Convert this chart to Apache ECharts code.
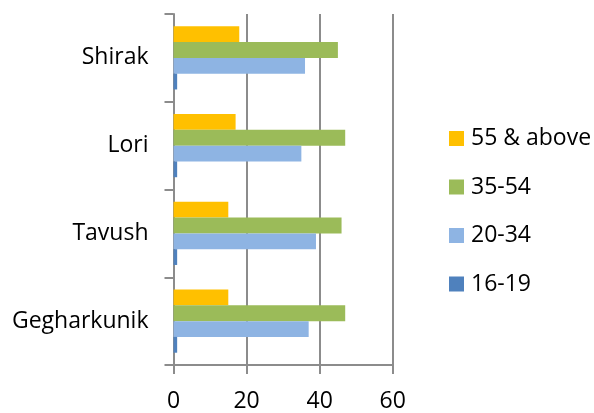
<!DOCTYPE html>
<html>
<head>
<meta charset="utf-8">
<script src="https://cdn.jsdelivr.net/npm/echarts@6/dist/echarts.min.js"></script>
<style>
html,body{margin:0;padding:0;background:#fff;}
#chart{width:594px;height:413px;}
</style>
</head>
<body>
<div id="chart"></div>
<script>
const categories = ['Gegharkunik', 'Tavush', 'Lori', 'Shirak'];
const seriesNames = ['55 & above', '35-54', '20-34', '16-19'];
const age55plus = [15, 15, 17, 18];
const age35to54 = [47, 46, 47, 45];
const age20to34 = [37, 39, 35, 36];
const age16to19 = [1, 1, 1, 1];
const xTicks = [0, 20, 40, 60];

const colors = {
  '55 & above': '#FFC000',
  '35-54': '#9BBB59',
  '20-34': '#8EB4E3',
  '16-19': '#4F81BD'
};
const valuesByName = {
  '55 & above': age55plus,
  '35-54': age35to54,
  '20-34': age20to34,
  '16-19': age16to19
};

const FONT = 'Open Sans';
const lineCol = '#8c8c8c';

const chart = echarts.init(document.getElementById('chart'));
chart.setOption({
  animation: false,
  backgroundColor: '#ffffff',
  textStyle: { fontFamily: FONT },
  grid: { left: 173.5, right: 201.3, top: 14, bottom: 45.3, containLabel: false },
  legend: {
    orient: 'vertical',
    left: 449,
    top: 125.5,
    padding: 0,
    itemWidth: 15,
    itemHeight: 15,
    itemGap: 22.5,
    icon: 'rect',
    data: seriesNames,
    textStyle: { fontFamily: FONT, fontSize: 23, color: '#000', lineHeight: 26, padding: [0, 0, 0, 2] }
  },
  xAxis: {
    type: 'value',
    min: xTicks[0],
    max: xTicks[xTicks.length - 1],
    interval: 20,
    axisLine: { show: true, lineStyle: { color: lineCol, width: 2 } },
    axisTick: { show: true, length: 9, lineStyle: { color: lineCol, width: 2 } },
    splitLine: { show: true, lineStyle: { color: lineCol, width: 2 } },
    axisLabel: { fontFamily: FONT, fontSize: 23, color: '#000', margin: 25 }
  },
  yAxis: {
    type: 'category',
    data: categories,
    axisLine: { show: true, lineStyle: { color: lineCol, width: 2 } },
    axisTick: { show: true, length: 9, inside: false, lineStyle: { color: lineCol, width: 2 } },
    axisLabel: { fontFamily: FONT, fontSize: 23, color: '#000', margin: 25 }
  },
  series: seriesNames.map(n => ({
    name: n,
    type: 'bar',
    data: valuesByName[n],
    itemStyle: { color: colors[n] },
    barGap: '0%',
    barCategoryGap: '28%'
  }))
});
</script>
</body>
</html>
